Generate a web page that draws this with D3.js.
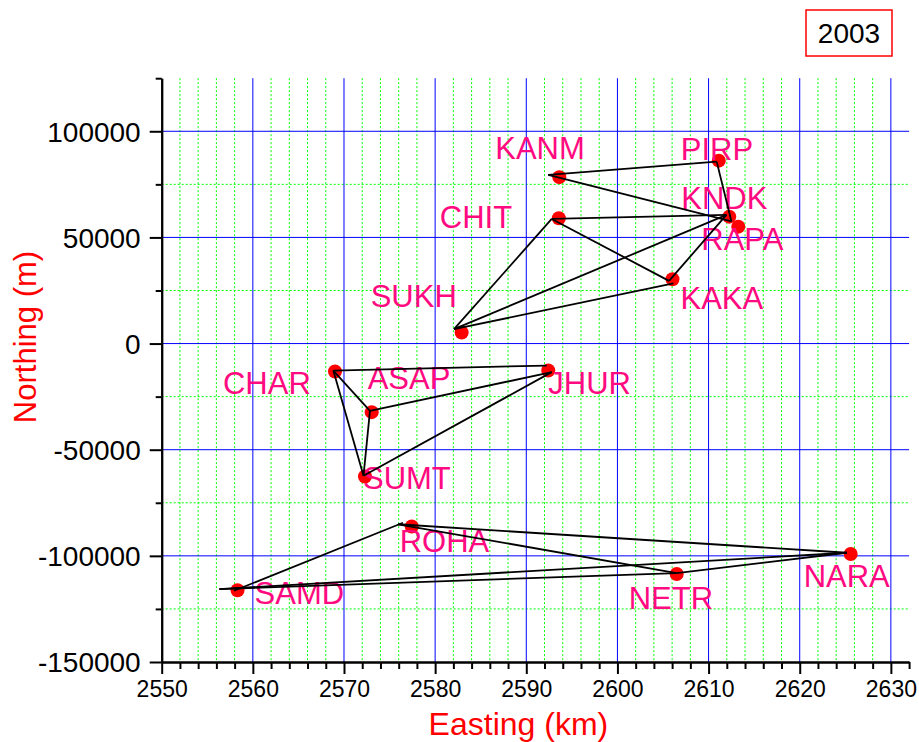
<!DOCTYPE html>
<html lang="en">

<head>
  <meta charset="utf-8">
  <title>GPS stations 2003</title>
  <script type="text/javascript" src="https://cdn.jsdelivr.net/npm/d3@7"></script>
  <style type="text/css">
    * {
      margin: 0;
      padding: 0;
    }

    body {
      background: #fff;
    }

    svg text {
      font-family: "Liberation Sans", Arial, sans-serif;
    }
  </style>
</head>

<body>
  <div id="chart"></div>
  <script>
    // station names and positions (easting in km, northing in m)
    var stations = ['KANM', 'PIRP', 'KNDK', 'RAPA', 'CHIT', 'KAKA', 'SUKH',
      'CHAR', 'ASAP', 'JHUR', 'SUMT', 'ROHA', 'SAMD', 'NETR', 'NARA'];
    var easting = [2593.62, 2611.12, 2612.27, 2613.26, 2593.57, 2606.04, 2582.91,
      2569.01, 2573.04, 2592.41, 2572.30, 2577.43, 2558.32, 2606.50, 2625.59];
    var northing = [78390, 86160, 59790, 55080, 59040, 30320, 5180,
      -13180, -32300, -12710, -62620, -86160, -116200, -108570, -99150];

    // network lines: [easting, northing] of both ends
    var linkFrom = [
      [2592.41, 79430], [2610.89, 85690], [2592.41, 79430], [2592.79, 58710],
      [2592.79, 58710], [2605.66, 29520], [2582.07, 6780], [2582.07, 6780],
      [2582.07, 6780],
      [2568.83, -12710], [2568.83, -12710], [2568.83, -12710], [2572.85, -31690],
      [2572.85, -31690], [2572.14, -62290],
      [2557.93, -116430], [2575.92, -85120], [2575.92, -85120], [2556.32, -115630],
      [2556.32, -115630], [2606.50, -108100]
    ];
    var linkTo = [
      [2610.89, 85690], [2612.51, 57530], [2612.51, 57530], [2611.96, 60590],
      [2605.66, 29520], [2611.96, 60590], [2592.79, 58710], [2611.96, 60590],
      [2606.14, 28400],
      [2592.24, -10360], [2572.85, -31690], [2572.14, -62290], [2592.79, -13470],
      [2572.14, -62290], [2592.79, -13470],
      [2576.47, -84420], [2625.18, -98540], [2606.50, -108100], [2625.18, -98540],
      [2606.50, -108100], [2625.18, -98540]
    ];

    var xMajor = [2550, 2560, 2570, 2580, 2590, 2600, 2610, 2620, 2630];
    var yMajor = [-150000, -100000, -50000, 0, 50000, 100000];
    var xTitle = 'Easting (km)';
    var yTitle = 'Northing (m)';
    var yearLabel = '2003';

    // label placement relative to the dot (pixels)
    var labelOffset = {
      KANM: [-64, -18], PIRP: [-38, -1], KNDK: [-48, -8], RAPA: [-37, 23],
      CHIT: [-119, 10], KAKA: [8, 30], SUKH: [-91, -26], CHAR: [-112, 22],
      ASAP: [-4, -23], JHUR: [0, 23], SUMT: [-2, 12], ROHA: [-12, 26],
      SAMD: [17, 14], NETR: [-48, 35], NARA: [-47, 33]
    };

    var svgWidth = 919;
    var svgHeight = 742;
    var plot = { left: 161.7, right: 909.1, top: 78.2, bottom: 662 };

    var svg = d3.select('#chart')
      .append('svg')
      .attr('width', svgWidth)
      .attr('height', svgHeight);

    var x = d3.scaleLinear().domain([2550, 2632]).range([plot.left, plot.right]);
    var y = d3.scaleLinear().domain([-150000, 125000]).range([plot.bottom, plot.top]);

    var xMinor = d3.range(2552, 2633, 2).filter(function (d) { return d % 10 !== 0; });
    var yMinor = d3.range(-125000, 125001, 50000);

    // grid: green dotted minor, blue solid major
    var grid = svg.append('g');
    grid.selectAll('.gx-minor').data(xMinor.filter(function (d) { return d < 2632; }))
      .enter().append('line')
      .attr('x1', x).attr('x2', x)
      .attr('y1', plot.top).attr('y2', plot.bottom)
      .attr('stroke', '#00ff00').attr('stroke-dasharray', '2,2');
    grid.selectAll('.gy-minor').data(yMinor.filter(function (d) { return d < 125000; }))
      .enter().append('line')
      .attr('y1', y).attr('y2', y)
      .attr('x1', plot.left).attr('x2', plot.right)
      .attr('stroke', '#00ff00').attr('stroke-dasharray', '2,2');
    grid.selectAll('.gx-major').data(xMajor.slice(1))
      .enter().append('line')
      .attr('x1', x).attr('x2', x)
      .attr('y1', plot.top).attr('y2', plot.bottom)
      .attr('stroke', '#0000ff');
    grid.selectAll('.gy-major').data(yMajor.slice(1))
      .enter().append('line')
      .attr('y1', y).attr('y2', y)
      .attr('x1', plot.left).attr('x2', plot.right)
      .attr('stroke', '#0000ff');

    // axes
    var fmt = function (d) { return String(d); };
    var xAxisG = svg.append('g')
      .attr('transform', 'translate(0,' + plot.bottom + ')')
      .call(d3.axisBottom(x).tickValues(xMajor).tickSize(12).tickSizeOuter(0).tickFormat(fmt));
    svg.append('g')
      .attr('transform', 'translate(0,' + plot.bottom + ')')
      .call(d3.axisBottom(x).tickValues(xMinor).tickSize(7).tickSizeOuter(0).tickFormat(''));
    var yAxisG = svg.append('g')
      .attr('transform', 'translate(' + plot.left + ',0)')
      .call(d3.axisLeft(y).tickValues(yMajor).tickSize(12).tickSizeOuter(0).tickFormat(fmt));
    svg.append('g')
      .attr('transform', 'translate(' + plot.left + ',0)')
      .call(d3.axisLeft(y).tickValues(yMinor).tickSize(6).tickSizeOuter(0).tickFormat(''));

    svg.selectAll('.domain, .tick line')
      .attr('stroke', '#000').attr('stroke-width', 2);
    xAxisG.selectAll('text')
      .attr('font-size', '23px').attr('fill', '#000')
      .attr('y', 19).attr('dy', '0.71em');
    yAxisG.selectAll('text')
      .attr('font-size', '28px').attr('fill', '#000')
      .attr('x', -21).attr('dy', '0.35em');

    // axis titles
    svg.append('text')
      .attr('x', (plot.left + plot.right) / 2 - 17)
      .attr('y', 735)
      .attr('text-anchor', 'middle')
      .attr('font-size', '32px')
      .attr('fill', '#ff0000')
      .text(xTitle);
    svg.append('text')
      .attr('transform', 'translate(36,337) rotate(-90)')
      .attr('text-anchor', 'middle')
      .attr('font-size', '31px')
      .attr('fill', '#ff0000')
      .text(yTitle);

    // stations
    var pts = stations.map(function (s, i) {
      return { name: s, e: easting[i], n: northing[i] };
    });
    svg.append('g').selectAll('circle').data(pts)
      .enter().append('circle')
      .attr('cx', function (d) { return x(d.e); })
      .attr('cy', function (d) { return y(d.n); })
      .attr('r', 7)
      .attr('fill', '#ff0000');
    svg.append('g').selectAll('text').data(pts)
      .enter().append('text')
      .attr('x', function (d) { return x(d.e) + labelOffset[d.name][0]; })
      .attr('y', function (d) { return y(d.n) + labelOffset[d.name][1]; })
      .attr('font-size', '31px')
      .attr('fill', '#ff0a80')
      .text(function (d) { return d.name; });

    // network lines
    svg.append('g').selectAll('line').data(linkFrom)
      .enter().append('line')
      .attr('x1', function (d) { return x(d[0]); })
      .attr('y1', function (d) { return y(d[1]); })
      .attr('x2', function (d, i) { return x(linkTo[i][0]); })
      .attr('y2', function (d, i) { return y(linkTo[i][1]); })
      .attr('stroke', '#000')
      .attr('stroke-width', 1.8);

    // year box
    var box = svg.append('g');
    box.append('rect')
      .attr('x', 806).attr('y', 10)
      .attr('width', 86).attr('height', 46)
      .attr('fill', '#fff')
      .attr('stroke', '#ff0000').attr('stroke-width', 1.5);
    box.append('text')
      .attr('x', 849).attr('y', 43)
      .attr('text-anchor', 'middle')
      .attr('font-size', '28px')
      .attr('fill', '#000')
      .text(yearLabel);
  </script>
</body>

</html>
